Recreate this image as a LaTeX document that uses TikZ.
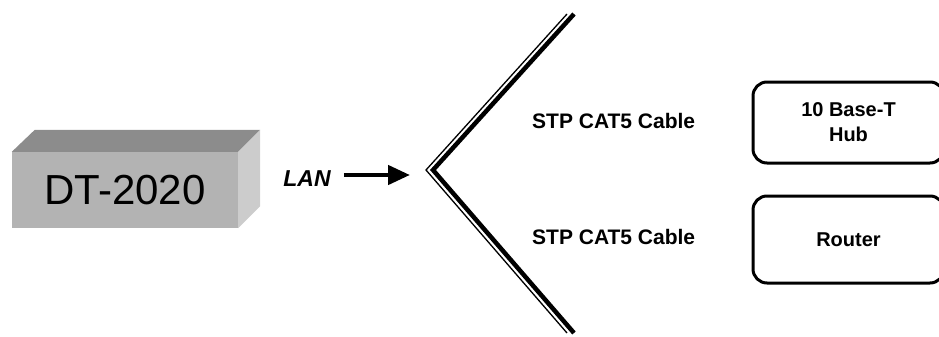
\documentclass[tikz,border=0pt]{standalone}
\usepackage{fontspec}
\setmainfont{Liberation Sans}
\usetikzlibrary{arrows.meta,positioning}
\definecolor{boxfront}{RGB}{179,179,179}
\definecolor{boxtop}{RGB}{140,140,140}
\definecolor{boxside}{RGB}{204,204,204}

\begin{document}
\begin{tikzpicture}[x=1pt,y=-1pt,
  devbox/.style={draw, line width=3pt, rounded corners=14pt, align=center, inner sep=0pt,
    font=\bfseries\fontsize{20}{25}\selectfont},
  cablelabel/.style={anchor=west, inner sep=0pt, font=\bfseries\fontsize{21}{25}\selectfont}]
  \useasboundingbox (0,0) rectangle (939,337);
  \clip (0,0) rectangle (939,337);
  % Unit: front face, then top and side
  \node[fill=boxfront, minimum width=226pt, minimum height=76pt, inner sep=0pt,
    font=\fontsize{42}{50}\selectfont] (dt) at (125,190) {DT-2020};
  \fill[boxtop] (dt.north west) -- ([shift={(23,-22)}]dt.north west)
    -- ([shift={(22,-22)}]dt.north east) -- (dt.north east) -- cycle;
  \fill[boxside] (dt.north east) -- ([shift={(22,-22)}]dt.north east)
    -- ([shift={(22,-22)}]dt.south east) -- (dt.south east) -- cycle;
  % LAN link
  \node[font=\bfseries\itshape\fontsize{23}{26}\selectfont, inner sep=0pt] (lan) at (307,179) {LAN};
  \coordinate (tip) at (410,175);
  \draw[line width=4.5pt, -{Triangle[length=22pt,width=19pt]}] ([xshift=13pt]lan.east |- tip) -- (tip);
  % Cable split
  \coordinate (vtx) at (433,170);
  \coordinate (up) at (574,14);
  \coordinate (down) at (574,333);
  \draw[line width=4.5pt] (up) -- (vtx) -- (down);
  \draw[line width=1.3pt] ([xshift=-7pt]up) -- ([xshift=-7pt]vtx) -- ([xshift=-7pt]down);
  \node[cablelabel] (cab1) at (532,121) {STP CAT5 Cable};
  \node[cablelabel] (cab2) at (532,237) {STP CAT5 Cable};
  % Devices on the far end
  \node[devbox, minimum width=191pt, minimum height=81pt] (hub) at (848.5,122.5) {10 Base-T\\Hub};
  \node[devbox, minimum width=191pt, minimum height=87pt] (router) at (848.5,239.5) {Router};
\end{tikzpicture}
\end{document}
